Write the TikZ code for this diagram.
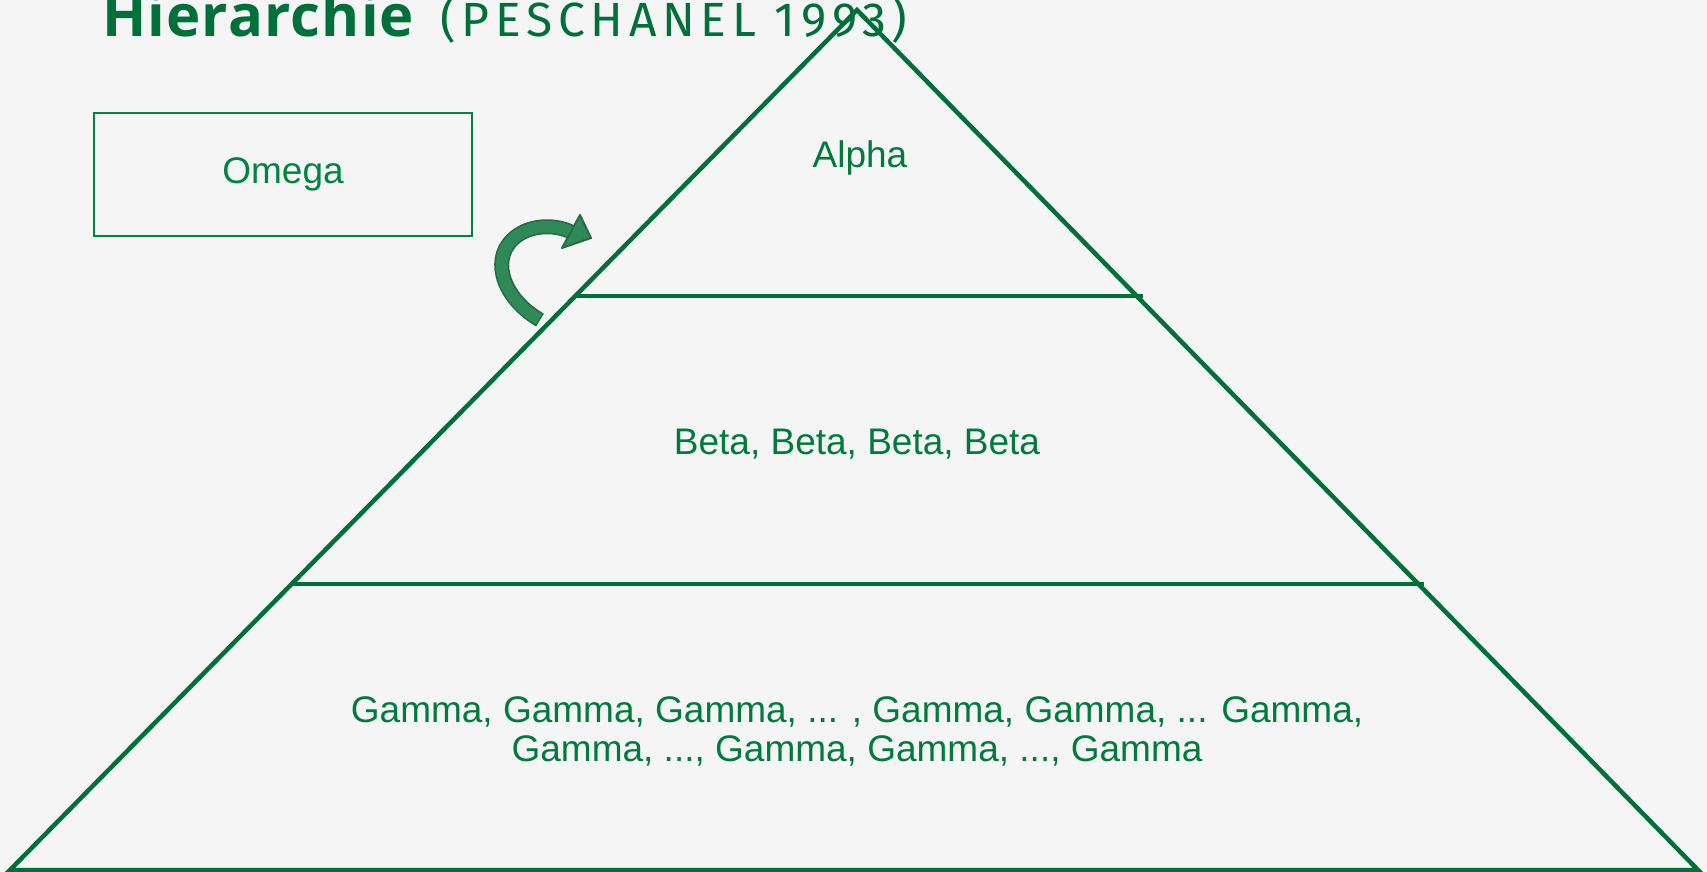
\documentclass[tikz,border=0pt]{standalone}
\usepackage{fontspec}
\setmainfont{Liberation Sans}
\newfontfamily\titlefont[LetterSpace=2]{Open Sans}
\newfontfamily\subfont[LetterSpace=12]{Fira Sans}
\usetikzlibrary{arrows.meta}
\definecolor{bg}{RGB}{245,245,245}
\definecolor{pyr}{RGB}{0,112,58}
\definecolor{txt}{RGB}{0,122,61}
\definecolor{boxc}{RGB}{0,132,66}
\definecolor{arrd}{RGB}{38,108,68}
\definecolor{arrl}{RGB}{48,138,88}
\begin{document}
\begin{tikzpicture}[x=1pt,y=-1pt,
  pyrline/.style={draw=pyr,line width=4.5},
  lbl/.style={text=txt,font=\fontsize{37}{39}\selectfont,inner sep=0,align=center}]
\fill[bg] (0,0) rectangle (1707,872);
\useasboundingbox (0,0) rectangle (1707,872);
\clip (0,0) rectangle (1707,872);
\coordinate (apex) at (857,10);
\coordinate (bl) at (10,870);
\coordinate (br) at (1698,870);
\coordinate (l1a) at (575,296);
\coordinate (l1b) at (1143,296);
\coordinate (l2a) at (292,584);
\coordinate (l2b) at (1424,584);
\draw[pyrline] (bl) -- (apex) -- (br) -- cycle;
\draw[pyrline] (l1a) -- (l1b);
\draw[pyrline] (l2a) -- (l2b);
\node[lbl] (alpha) at (860,158) {Alpha};
\node[lbl] (beta) at (857,444) {Beta, Beta, Beta, Beta};
\node[lbl] (gamma) at (857,731) {Gamma, Gamma, Gamma, ... , Gamma, Gamma, ... Gamma,\\Gamma, ..., Gamma, Gamma, ..., Gamma};
\node[draw=boxc,line width=1.5,minimum width=378,minimum height=123,text=boxc,font=\fontsize{37}{39}\selectfont] (omega) at (283,174.5) {Omega};
\node[anchor=base west,inner sep=0,text=pyr] (title) at (102,37) {\titlefont\fontsize{58}{58}\selectfont\bfseries Hierarchie};
\node[anchor=base west,inner sep=0,text=pyr] (subtitle) at (440,37) {\subfont\fontsize{48}{48}\selectfont (PESCHANEL 1993)};
% curved arrow
\coordinate (a0) at (540,320);
\coordinate (a1) at (512,240);
\coordinate (a2) at (571,232);
\coordinate (h1) at (580,215);
\coordinate (h2) at (562,248);
\coordinate (ht) at (591,238);
\draw[arrd,line width=15] (a0) .. controls (505,300) and (490,262) .. (a1) .. controls (528,224) and (555,224) .. (a2);
\draw[arrl,line width=11.5,shorten <=1.5] (a0) .. controls (505,300) and (490,262) .. (a1) .. controls (528,224) and (555,224) .. (a2);
\filldraw[fill=arrl,draw=arrd,line width=2,line join=round] (h1) -- (ht) -- (h2) -- cycle;
\end{tikzpicture}
\end{document}
